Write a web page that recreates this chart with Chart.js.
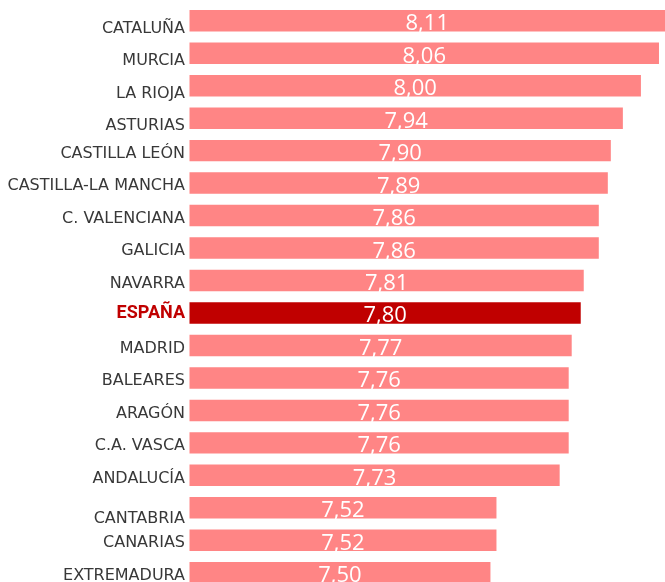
<!DOCTYPE html>
<html>
<head>
<meta charset="utf-8">
<script src="https://cdn.jsdelivr.net/npm/chart.js@4"></script>
<style>
html,body{margin:0;padding:0;background:#fff;overflow:hidden;}
#wrap{width:665px;height:590px;position:relative;}
</style>
</head>
<body>
<div id="wrap"><canvas id="c"></canvas></div>
<script>
const categories = ["CATALUÑA","MURCIA","LA RIOJA","ASTURIAS","CASTILLA LEÓN","CASTILLA-LA MANCHA","C. VALENCIANA","GALICIA","NAVARRA","ESPAÑA","MADRID","BALEARES","ARAGÓN","C.A. VASCA","ANDALUCÍA","CANTABRIA","CANARIAS","EXTREMADURA"];
const values = [8.11,8.06,8.00,7.94,7.90,7.89,7.86,7.86,7.81,7.80,7.77,7.76,7.76,7.76,7.73,7.52,7.52,7.50];
const highlight = "ESPAÑA";

const PINK = "#FF8585", RED = "#C00000";
const labelNudge = {0:5,1:4.5,2:5.5,3:4.8,9:-2.5,15:8};
const TICK_SIZE = 16;

const valueLabels = {
  id: 'valueLabels',
  afterDatasetsDraw(chart) {
    const ctx = chart.ctx, area = chart.chartArea;
    const meta = chart.getDatasetMeta(0);
    ctx.save();
    ctx.fillStyle = '#fff';
    ctx.font = '500 22px "Open Sans"';
    ctx.textAlign = 'center';
    ctx.textBaseline = 'alphabetic';
    meta.data.forEach((bar, i) => {
      const right = Math.min(bar.x, area.right);
      const left = Math.max(bar.base, area.left);
      const cx = (left + right) / 2;
      ctx.fillText(values[i].toFixed(2).replace('.', ','), cx, bar.y + 9.5);
    });
    ctx.restore();
  }
};

new Chart(document.getElementById('c'), {
  type: 'bar',
  data: {
    labels: categories,
    datasets: [{
      data: values,
      backgroundColor: categories.map(c => c === highlight ? RED : PINK),
      borderWidth: 0,
      categoryPercentage: 1,
      barPercentage: 0.662
    }]
  },
  options: {
    indexAxis: 'y',
    responsive: true,
    maintainAspectRatio: false,
    animation: false,
    layout: { padding: { top: 4.5, bottom: 1, left: 0, right: 0 } },
    plugins: { legend: { display: false }, tooltip: { enabled: false } },
    scales: {
      x: { display: false, min: 6.5, max: 8.08 },
      y: {
        grid: { display: false, drawTicks: false },
        border: { display: false },
        afterFit(scale) {
          scale.width = 189.5;
          scale.paddingTop = 0;
          scale.paddingBottom = 0;
        },
        ticks: {
          padding: 4.5,
          labelOffset: 3,
          autoSkip: false,
          callback(v, i) {
            const n = labelNudge[i];
            if (!n) return categories[i];
            return n > 0 ? ['', categories[i]] : [categories[i], ''];
          },
          color(ctx) { return categories[ctx.index] === highlight ? RED : '#383838'; },
          font(ctx) {
            const i = ctx.index;
            const n = labelNudge[i];
            const bold = categories[i] === highlight;
            const size = bold ? 18 : TICK_SIZE;
            return { family: bold ? 'Roboto' : '"DejaVu Sans"', size: size,
                     weight: bold ? 'bold' : 'normal',
                     lineHeight: n ? (2 * Math.abs(n)) / size : 1.2 };
          }
        }
      }
    }
  },
  plugins: [valueLabels]
});
</script>
</body>
</html>
